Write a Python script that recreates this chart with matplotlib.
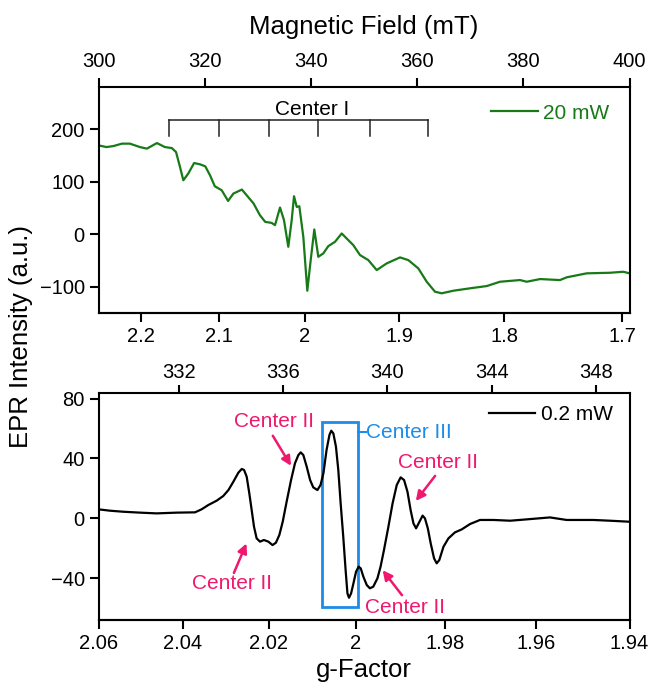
import numpy as np
import matplotlib
matplotlib.use('Agg')
import matplotlib.pyplot as plt
from matplotlib.ticker import FuncFormatter

plt.rcParams['font.family'] = ['Liberation Sans', 'DejaVu Sans']

G_FIELD = 677.6  # g * B(mT) for the spectrometer frequency

# 20 mW scan (field in mT, intensity in a.u.)
field_20mw = [300.0, 301.5, 302.8, 304.4, 305.9, 307.8, 309.1, 311.0, 312.5, 313.8,
              314.6, 315.35, 315.97, 316.9, 318.0, 319.1, 320.1, 321.0, 321.9, 323.2,
              324.4, 325.4, 327.0, 327.9, 329.2, 330.4, 331.4, 332.6, 333.24, 334.18,
              334.93, 335.74, 336.38, 336.82, 337.33, 337.82, 338.57, 339.32, 339.96, 340.64,
              341.39, 342.33, 343.28, 344.54, 345.8, 347.04, 347.98, 349.25, 350.81, 352.39,
              354.27, 356.78, 358.34, 360.23, 361.81, 363.37, 364.63, 366.82, 369.96, 373.11,
              375.61, 379.38, 380.64, 383.15, 386.91, 388.17, 391.94, 396.33, 398.83, 400.0]
epr_20mw = [169.5, 166.3, 168.2, 172.8, 172.8, 166.3, 163.3, 173.9, 166.3, 164.4,
            156.8, 128.3, 103.1, 115.8, 135.9, 133.5, 129.7, 112.6, 91.7, 84.1,
            63.8, 77.8, 85.4, 74.6, 58.9, 36.6, 23.9, 22.0, 17.7, 51.3,
            27.2, -23.5, 27.2, 72.7, 52.4, 53.7, -4.6, -107.1, -48.8, 9.5,
            -42.5, -36.1, -22.2, -14.0, 1.9, -10.8, -20.3, -39.3, -48.8, -67.8,
            -55.1, -43.7, -48.8, -64.6, -90.0, -109.0, -112.0, -107.1, -102.5, -98.2,
            -90.0, -86.8, -90.0, -84.9, -86.8, -81.6, -74.0, -72.9, -71.0, -74.0]

# 0.2 mW scan
field_02mw = [328.93, 329.37, 329.88, 330.52, 331.16, 331.93, 332.63, 332.88, 333.14, 333.46,
              333.71, 333.91, 334.10, 334.29, 334.42, 334.51, 334.61, 334.71, 334.80, 334.89,
              334.99, 335.12, 335.27, 335.44, 335.60, 335.73, 335.86, 335.99, 336.14, 336.31,
              336.46, 336.59, 336.68, 336.78, 336.91, 337.04, 337.16, 337.32, 337.44, 337.55,
              337.67, 337.78, 337.85, 337.93, 338.03, 338.12, 338.21, 338.31, 338.40, 338.47,
              338.53, 338.61, 338.70, 338.80, 338.90, 338.98, 339.08, 339.21, 339.33, 339.46,
              339.62, 339.74, 339.87, 340.04, 340.20, 340.36, 340.51, 340.64, 340.77, 340.89,
              341.00, 341.10, 341.23, 341.35, 341.44, 341.55, 341.66, 341.79, 341.89, 341.99,
              342.15, 342.34, 342.59, 342.85, 343.17, 343.55, 344.06, 344.71, 345.34, 346.23,
              346.87, 347.89, 348.53, 349.30]
epr_02mw = [6.0, 5.1, 4.4, 3.8, 3.3, 3.8, 4.0, 6.0, 8.9, 11.8,
            14.9, 18.9, 24.5, 30.5, 33.0, 32.3, 27.8, 16.7, 5.6, -5.6,
            -13.4, -15.6, -14.5, -15.6, -17.9, -16.3, -11.2, -2.3, 11.1, 25.6,
            36.8, 42.3, 44.1, 42.3, 34.5, 25.6, 20.7, 18.9, 22.3, 30.1,
            45.7, 55.7, 58.6, 56.8, 47.9, 32.3, 10.0, -12.3, -34.6, -50.2,
            -53.1, -50.2, -43.5, -35.7, -32.3, -33.5, -39.0, -44.6, -46.8, -45.7,
            -40.1, -32.3, -21.2, -5.6, 10.0, 22.3, 27.4, 25.6, 17.8, 5.6,
            -3.4, -6.7, -2.3, 1.8, 0.0, -6.7, -16.7, -26.8, -30.1, -27.9,
            -19.0, -13.4, -9.4, -7.4, -3.8, -1.1, -1.1, -1.6, -0.7, 0.6,
            -1.1, -1.1, -1.6, -2.3]

# hyperfine stick positions of Center I (mT)
center1_lines = [313.3, 322.6, 332.2, 341.3, 351.1, 362.0]

green = '#177a17'
pink = '#f0186e'
blue = '#1c8ce8'


def field_to_g(b):
    b = np.asarray(b, dtype=float)
    with np.errstate(divide='ignore', invalid='ignore'):
        return G_FIELD / b


def style_axes(ax):
    for s in ax.spines.values():
        s.set_linewidth(1.5)
    ax.tick_params(direction='out', length=6.5, width=1.5, labelsize=14.5)


fig = plt.figure(figsize=(6.52, 6.87), dpi=100)
ax1 = fig.add_axes([0.1511, 0.5440, 0.8144, 0.3289])
ax2 = fig.add_axes([0.1511, 0.0975, 0.8144, 0.3309])

# --- top panel, 20 mW ---
ax1.plot(field_20mw, epr_20mw, color=green, lw=1.6, label='20 mW')
ax1.set_xlim(300, 400)
ax1.set_ylim(-150, 280)
ax1.set_yticks([-100, 0, 100, 200])
ax1.xaxis.tick_top()
ax1.xaxis.set_label_position('top')
ax1.set_xticks(range(300, 401, 20))
ax1.set_xlabel('Magnetic Field (mT)', fontsize=18.5, labelpad=13)
style_axes(ax1)
ax1.tick_params(axis='x', pad=5)
sec1 = ax1.secondary_xaxis('bottom', functions=(field_to_g, field_to_g))
sec1.set_xticks([2.2, 2.1, 2.0, 1.9, 1.8, 1.7])
sec1.xaxis.set_major_formatter(FuncFormatter(lambda v, p: '{:g}'.format(round(v, 3))))
style_axes(sec1)

comb_y, comb_bot = 217, 187
ax1.plot([center1_lines[0], center1_lines[-1]], [comb_y, comb_y], color='#222222', lw=1.1)
for c in center1_lines:
    ax1.plot([c, c], [comb_y, comb_bot], color='#222222', lw=1.1)
ax1.text(340.2, 237, 'Center I', fontsize=15, ha='center', va='center')

ax1.legend(loc='upper right', bbox_to_anchor=(0.962, 0.928), frameon=False,
           fontsize=15, handlelength=2.25, handletextpad=0.25, borderpad=0,
           borderaxespad=0, labelcolor='linecolor')

# --- bottom panel, 0.2 mW ---
ax2.plot(field_02mw, epr_02mw, color='black', lw=1.6, label='0.2 mW')
ax2.set_xlim(G_FIELD / 2.06, G_FIELD / 1.94)
ax2.set_ylim(-68, 84)
ax2.set_yticks([-40, 0, 40, 80])
ax2.xaxis.tick_top()
ax2.set_xticks([332, 336, 340, 344, 348])
style_axes(ax2)
ax2.tick_params(axis='x', length=5.5, pad=2.5)
sec2 = ax2.secondary_xaxis('bottom', functions=(field_to_g, field_to_g))
sec2.set_xticks([2.06, 2.04, 2.02, 2.0, 1.98, 1.96, 1.94])
sec2.xaxis.set_major_formatter(FuncFormatter(lambda v, p: '{:g}'.format(round(v, 3))))
sec2.set_xlabel('g-Factor', fontsize=18.5, labelpad=4)
style_axes(sec2)

ax2.legend(loc='upper right', bbox_to_anchor=(0.969, 0.946), frameon=False,
           fontsize=15, handlelength=2.2, handletextpad=0.3, borderpad=0,
           borderaxespad=0)

# Center III box around the central line
ax2.add_patch(plt.Rectangle((337.48, -59.2), 338.89 - 337.48, 64.3 + 59.2,
                            fill=False, edgecolor=blue, lw=2.0))
ax2.plot([338.89, 339.17], [57.6, 57.6], color=blue, lw=1.5)
ax2.text(339.2, 57.6, 'Center III', color=blue, fontsize=15, ha='left', va='center')

# Center II labels with arrows
center2 = [
    ((335.66, 64.5), (335.61, 55.2), (336.31, 35.1)),
    ((334.05, -43.4), (334.12, -36.5), (334.60, -16.8)),
    ((341.94, 37.3), (341.83, 28.4), (341.09, 11.6)),
    ((340.68, -59.4), (340.56, -51.4), (339.82, -34.7)),
]
for txt, tail, head in center2:
    ax2.text(txt[0], txt[1], 'Center II', color=pink, fontsize=15, ha='center', va='center')
    ax2.annotate('', xy=head, xytext=tail,
                 arrowprops=dict(arrowstyle='-|>', color=pink, lw=1.8, mutation_scale=14,
                                 shrinkA=0, shrinkB=0))

fig.text(0.032, 0.51, 'EPR Intensity (a.u.)', rotation=90, fontsize=18.5,
         ha='center', va='center')

fig.savefig('out.png', dpi=100)
